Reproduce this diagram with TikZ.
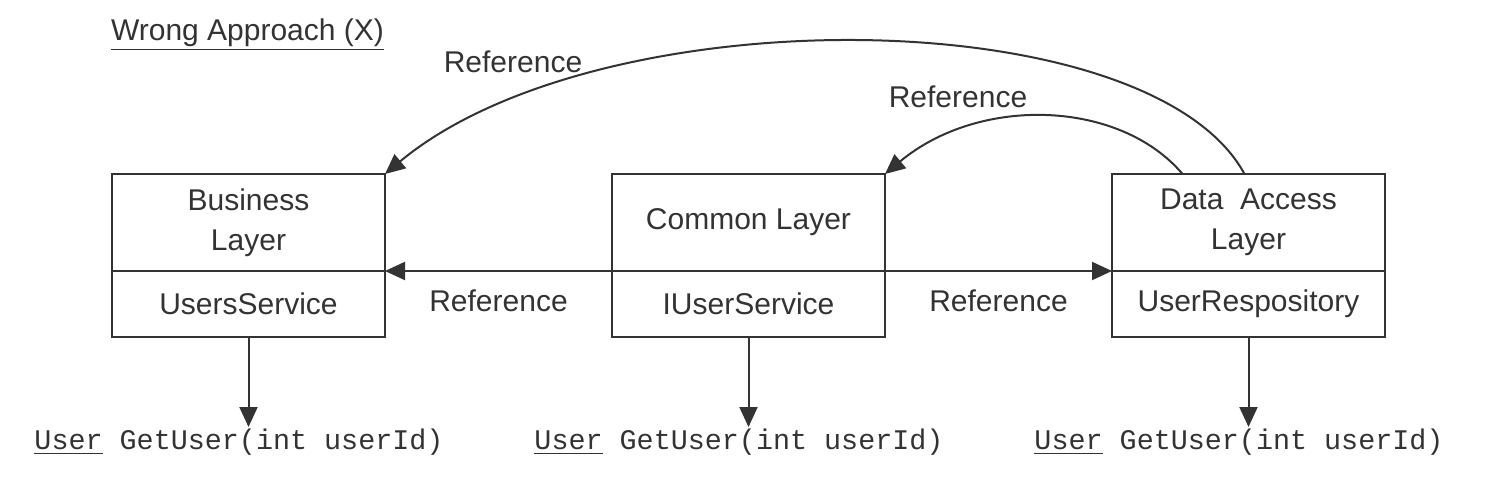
\documentclass[tikz,border=0pt]{standalone}
\usepackage{fontspec}
\setmainfont{Liberation Sans}
\setmonofont{Liberation Mono}
\usetikzlibrary{arrows.meta,positioning}
\definecolor{ink}{HTML}{333333}

\begin{document}
\begin{tikzpicture}[x=0.5pt,y=-0.5pt,
  layer/.style={draw=ink,line width=1.2pt,minimum width=136.5pt,minimum height=48.5pt,inner sep=0pt,outer sep=0pt,align=center,text=ink,font=\fontsize{15}{20}\selectfont},
  svc/.style={layer,minimum height=33pt},
  ref/.style={draw=ink,line width=1pt,-{Triangle[length=10pt,width=9pt]}},
  lbl/.style={text=ink,font=\fontsize{15}{18}\selectfont},
  sig/.style={text=ink,font=\ttfamily\fontsize{14.2}{17}\selectfont,inner sep=1pt}]
\useasboundingbox (0,0) rectangle (1495,480);

\node[lbl,anchor=west] (title) at (104,35) {\underline{Wrong Approach (X)}};

\foreach \n/\x/\lname/\sname in {bl/112/{Business\\Layer}/UsersService,cl/612/{Common Layer}/IUserService,dal/1112/{Data~~Access\\Layer}/UserRespository}
{
\node[layer,anchor=north west] (\n) at (\x,174) {\lname};
\node[svc,below=0pt of \n] (\n-svc) {\sname};
\node[sig,anchor=base] (\n-sig) at (\x+127,450) {\underline{User} GetUser(int userId)};
\draw[ref] (\n-svc.south) -- (\n-svc.south |- \n-sig.north);
}

\draw[ref] (cl.south west) -- (bl.south east) node[lbl,midway,yshift=-15pt] (ref1) {Reference};
\draw[ref] (cl.south east) -- (dal.south west) node[lbl,midway,yshift=-15pt] (ref2) {Reference};
\draw[ref] ([xshift=-33pt]dal.north) .. controls (1120,100) and (980,95) .. (cl.north east);
\draw[ref] ([xshift=-2pt]dal.north) .. controls (1150,0) and (600,-5) .. (bl.north east);
\node[lbl] (ref3) at (958,97) {Reference};
\node[lbl] (ref4) at (513,62) {Reference};

\end{tikzpicture}
\end{document}
